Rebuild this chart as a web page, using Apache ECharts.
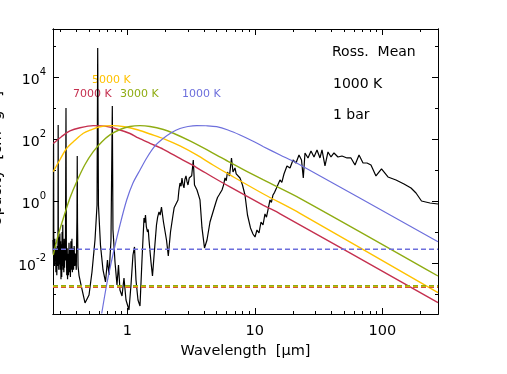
<!DOCTYPE html>
<html>
<head>
<meta charset="utf-8">
<script src="https://cdn.jsdelivr.net/npm/echarts@6/dist/echarts.min.js"></script>
<style>
  html, body { margin: 0; background: #fff; }
  #chart { width: 507px; height: 374px; }
</style>
</head>
<body>
<div id="chart"></div>
<script>
// axis ranges
const xMin = 0.2614, xMax = 273.5;
const yMin = 2.26e-4, yMax = 3.53e5;
const xMajorTicks = [1, 10, 100];
const xMinorTicks = [0.3, 0.4, 0.5, 0.6, 0.7, 0.8, 0.9, 2, 3, 4, 5, 6, 7, 8, 9, 20, 30, 40, 50, 60, 70, 80, 90, 200];
const yMajorTicks = [1e-2, 1, 1e2, 1e4];
const yMinorTicks = [1e-3, 1e-1, 10, 1e3, 1e5];

// opacity spectrum (black)
const specWl = [
  0.261, 0.2625, 0.264, 0.2655, 0.267, 0.2685, 0.270, 0.2715, 0.2735, 0.2755, 0.278, 0.280, 0.2825, 0.2845, 0.286, 0.287, 0.288, 0.290, 0.292, 0.294,
  0.296, 0.298, 0.300, 0.302, 0.304, 0.306, 0.308, 0.310, 0.312, 0.314, 0.316, 0.318, 0.320, 0.322, 0.324, 0.327, 0.3305, 0.333, 0.335, 0.338,
  0.340, 0.343, 0.346, 0.349, 0.352, 0.355, 0.358, 0.361, 0.364, 0.368, 0.371, 0.375, 0.379, 0.383, 0.387, 0.392, 0.398, 0.403, 0.405, 0.407,
  0.411, 0.418, 0.4335, 0.466, 0.501, 0.5285, 0.558, 0.579, 0.586, 0.594, 0.616, 0.645, 0.6745, 0.699, 0.7185, 0.745, 0.763, 0.772, 0.801, 0.830,
  0.853, 0.876, 0.909, 0.942, 0.977, 1.031, 1.069, 1.108, 1.139, 1.170, 1.213, 1.258, 1.304, 1.352, 1.37, 1.389, 1.41, 1.440, 1.46, 1.480,
  1.534, 1.576, 1.634, 1.694, 1.73, 1.773, 1.81, 1.854, 1.922, 2.030, 2.097, 2.182, 2.283, 2.33, 2.388, 2.44, 2.498, 2.54, 2.590, 2.64,
  2.685, 2.73, 2.784, 2.83, 2.886, 2.94, 2.993, 3.06, 3.131, 3.2, 3.293, 3.366, 3.44, 3.521, 3.717, 3.854, 4.032, 4.219, 4.453, 4.70,
  4.963, 5.1, 5.240, 5.38, 5.531, 5.68, 5.838, 5.97, 6.107, 6.332, 6.565, 6.745, 6.993, 7.15, 7.316, 7.655, 8.006, 8.377, 8.764, 9.253,
  9.68, 10.04, 10.4, 10.79, 11.19, 11.6, 12.02, 12.35, 12.69, 13.16, 13.5, 13.89, 14.3, 14.8, 15.76, 16.3, 16.94, 17.88, 18.89, 19.94,
  21.05, 22.22, 23.25, 24.01, 24.76, 26.14, 27.6, 29.13, 30.75, 32.46, 33.66, 35.53, 37.51, 39.6, 41.8, 44.9, 48.3, 52.9, 56.8, 61.1,
  65.7, 70.6, 75.9, 81.5, 89.2, 98.6, 110.8, 128.1, 148, 168, 183.8, 203, 236.6, 273.5];
const specOpacity = [
  0.0552, 0.02, 74.3, 0.015, 0.04, 0.008, 0.06, 0.012, 0.045, 0.005, 0.03, 0.004, 0.035, 0.008, 0.05, 283, 0.03, 0.006, 0.07, 0.009,
  0.09, 0.006, 0.05, 0.003, 0.04, 0.0035, 0.1, 0.008, 0.17, 0.006, 0.04, 0.005, 0.06, 0.007, 0.05, 0.012, 1000, 0.02, 0.004, 0.03,
  0.003, 0.02, 0.004, 0.045, 0.005, 0.03, 0.0035, 0.05, 0.006, 0.06, 0.005, 0.03, 0.006, 0.035, 0.008, 0.02, 0.006, 0.3, 28.3, 0.2,
  0.008, 0.004, 0.00195, 0.000513, 0.00093, 0.00513, 0.0552, 0.743, 86100, 0.743, 0.0381, 0.00594, 0.00244, 0.0125, 0.0041, 0.0552, 1160, 0.116, 0.0108, 0.00195,
  0.0086, 0.00135, 0.00086, 0.00328, 0.00064, 0.000305, 0.00195, 0.0181, 0.0328, 0.00283, 0.00064, 0.00041, 0.0125, 0.283, 0.2, 0.353, 0.15, 0.1, 0.12, 0.0552,
  0.0108, 0.00381, 0.0262, 0.168, 0.3, 0.442, 0.35, 0.64, 0.21, 0.0552, 0.0168, 0.1, 0.353, 0.6, 0.743, 0.7, 1.08, 2.2, 3.81, 3.0,
  5.52, 3.5, 2.63, 5.0, 6.41, 4.2, 3.28, 5.5, 4.76, 6.5, 21.0, 3.28, 3.8, 2.26, 1.08, 0.135, 0.0305, 0.0552, 0.21, 0.442,
  0.929, 1.3, 1.56, 1.4, 2.26, 3.2, 5.52, 4.5, 8.62, 6.41, 24.4, 8.62, 11.6, 7.5, 6.90, 5.52, 3.28, 1.56, 0.353, 0.135,
  0.0861, 0.069, 0.116, 0.0929, 0.21, 0.168, 0.381, 0.3, 0.513, 1.08, 0.9, 1.56, 1.9, 2.63, 4.76, 4.0, 7.43, 13.5, 11.6, 21.0,
  16.8, 30.5, 21.0, 5.52, 35.4, 24.4, 41.0, 26.3, 44.2, 24.4, 44.2, 13.5, 38.1, 26.3, 35.4, 26.3, 28.3, 24.4, 24.4, 14.5,
  30.5, 16.8, 16.8, 14.5, 6.41, 10.8, 5.95, 4.76, 3.53, 2.63, 1.81, 1.0, 0.862, 0.80];

// scaled blackbody curves
const wl7000 = [0.2625, 0.306, 0.355, 0.426, 0.541, 0.668, 0.826, 1.05, 1.22, 1.507, 1.92, 2.59, 3.50, 4.70, 6.39, 11.7, 15.8, 273.5];
const val7000 = [71.6, 120, 181, 230, 269, 259, 210, 150, 108, 72.7, 46.5, 23.5, 12.0, 5.82, 2.83, 0.727, 0.386, 0.000524];
const wl5000 = [0.2625, 0.297, 0.335, 0.389, 0.452, 0.526, 0.611, 0.759, 0.95, 1.22, 1.507, 1.92, 2.59, 3.50, 4.70, 6.39, 11.7, 22.6, 273.5];
const val5000 = [8.81, 21.8, 50.1, 90.8, 153, 201, 249, 270, 248, 195, 145, 103, 59.4, 30.5, 14.5, 6.9, 1.68, 0.401, 0.0011];
const wl3000 = [0.2625, 0.286, 0.315, 0.355, 0.401, 0.466, 0.541, 0.630, 0.731, 0.876, 1.05, 1.258, 1.507, 1.92, 2.30, 3.10, 4.73, 6.39, 11.7, 22.6, 273.5];
const val3000 = [0.0181, 0.0743, 0.277, 1.25, 4.19, 15.0, 38.9, 80, 135, 202, 253, 269, 253, 202, 153, 86.2, 34.6, 17.5, 4.76, 1.22, 0.0038];
const wl1000 = [0.630, 0.693, 0.776, 0.876, 0.989, 1.108, 1.258, 1.42, 1.649, 1.92, 2.23, 2.59, 2.99, 3.50, 4.14, 5.02, 6.16, 7.66, 9.44, 11.7, 15.8, 21.3, 273.5];
const val1000 = [0.000235, 0.00226, 0.0206, 0.168, 1.077, 3.81, 10, 24.4, 59.5, 105, 162, 218, 253, 271, 267, 249, 195, 135, 89.5, 56.5, 30.5, 16.8, 0.0486];

// mean opacities (dashed)
const mean1000 = 0.0277;
const mean3000 = 0.00185;
const mean5000 = 0.00175;
const mean7000 = 0.00164;

const FONT = 'DejaVu Sans';
const RED = '#c5304f', GOLD = '#ffc200', GREEN = '#8fac12', BLUE = '#6d6fdc';

function zip(a, b) { return a.map((v, i) => [v, b[i]]); }

function axis(pos, min, max, ticks, len, opts) {
  return Object.assign({
    type: 'log', position: pos, min: min, max: max,
    axisLine: { show: true, onZero: false, lineStyle: { color: '#000', width: 1 } },
    axisTick: { show: true, inside: true, length: len, customValues: ticks, lineStyle: { color: '#000', width: 1 } },
    axisLabel: { show: false },
    splitLine: { show: false },
    minorTick: { show: false }
  }, opts || {});
}

const chart = echarts.init(document.getElementById('chart'));

const xLabel = {
  show: true, customValues: xMajorTicks, margin: 10,
  fontFamily: FONT, fontSize: 14.5, color: '#000',
  formatter: v => String(Math.round(v))
};
const yLabel = {
  show: true, customValues: yMajorTicks, margin: 7,
  formatter: v => '{b|10}{s|' + Math.round(Math.log10(v)) + '}',
  rich: {
    b: { fontFamily: FONT, fontSize: 14, color: '#000', lineHeight: 20, verticalAlign: 'bottom' },
    s: { fontFamily: FONT, fontSize: 10, color: '#000', lineHeight: 12, verticalAlign: 'top' }
  }
};

function dashed(value, color) {
  return {
    type: 'line', showSymbol: false, silent: true,
    data: [[xMin, value], [xMax, value]],
    lineStyle: { color: color, width: 1.5, type: [5, 3] }
  };
}
function curve(wl, val, color, w) {
  return {
    type: 'line', showSymbol: false, silent: true, smooth: 0.3,
    data: zip(wl, val),
    lineStyle: { color: color, width: w }
  };
}

chart.setOption({
  animation: false,
  backgroundColor: '#fff',
  grid: { left: 53, right: 69, top: 29, bottom: 60, containLabel: false },
  xAxis: [
    axis('bottom', xMin, xMax, xMajorTicks, 6, {
      axisLabel: xLabel,
      name: 'Wavelength  [\u03bcm]', nameLocation: 'middle', nameGap: 29,
      nameTextStyle: { fontFamily: FONT, fontSize: 14.5, color: '#000' }
    }),
    axis('bottom', xMin, xMax, xMinorTicks, 3),
    axis('top', xMin, xMax, xMajorTicks, 6),
    axis('top', xMin, xMax, xMinorTicks, 3)
  ],
  yAxis: [
    axis('left', yMin, yMax, yMajorTicks, 6, { axisLabel: yLabel }),
    axis('left', yMin, yMax, yMinorTicks, 3),
    axis('right', yMin, yMax, yMajorTicks, 6),
    axis('right', yMin, yMax, yMinorTicks, 3)
  ],
  graphic: [
    { type: 'text', x: -3, y: 159, rotation: Math.PI / 2,
      style: { text: 'Opacity  [cm\u00b2 g\u207b\u00b9]', font: '15px "DejaVu Sans"', fill: '#000', align: 'center', verticalAlign: 'middle' } },
    { type: 'text', left: 332, top: 45, style: { text: 'Ross.  Mean', font: '14px "DejaVu Sans"', fill: '#000' } },
    { type: 'text', left: 333, top: 77, style: { text: '1000 K', font: '14px "DejaVu Sans"', fill: '#000' } },
    { type: 'text', left: 333, top: 108, style: { text: '1 bar', font: '14px "DejaVu Sans"', fill: '#000' } },
    { type: 'text', left: 92, top: 75, style: { text: '5000 K', font: '11px "DejaVu Sans"', fill: GOLD } },
    { type: 'text', left: 73, top: 89, style: { text: '7000 K', font: '11px "DejaVu Sans"', fill: RED } },
    { type: 'text', left: 120, top: 89, style: { text: '3000 K', font: '11px "DejaVu Sans"', fill: GREEN } },
    { type: 'text', left: 182, top: 89, style: { text: '1000 K', font: '11px "DejaVu Sans"', fill: BLUE } }
  ],
  series: [
    {
      type: 'line', showSymbol: false, silent: true,
      data: zip(specWl, specOpacity),
      lineStyle: { color: '#000', width: 1.2 }
    },
    curve(wl7000, val7000, RED, 1.4),
    curve(wl5000, val5000, GOLD, 1.4),
    curve(wl3000, val3000, GREEN, 1.4),
    curve(wl1000, val1000, BLUE, 1.2),
    dashed(mean1000, BLUE),
    dashed(mean7000, RED),
    dashed(mean5000, GOLD),
    dashed(mean3000, GREEN)
  ]
});
</script>
</body>
</html>
